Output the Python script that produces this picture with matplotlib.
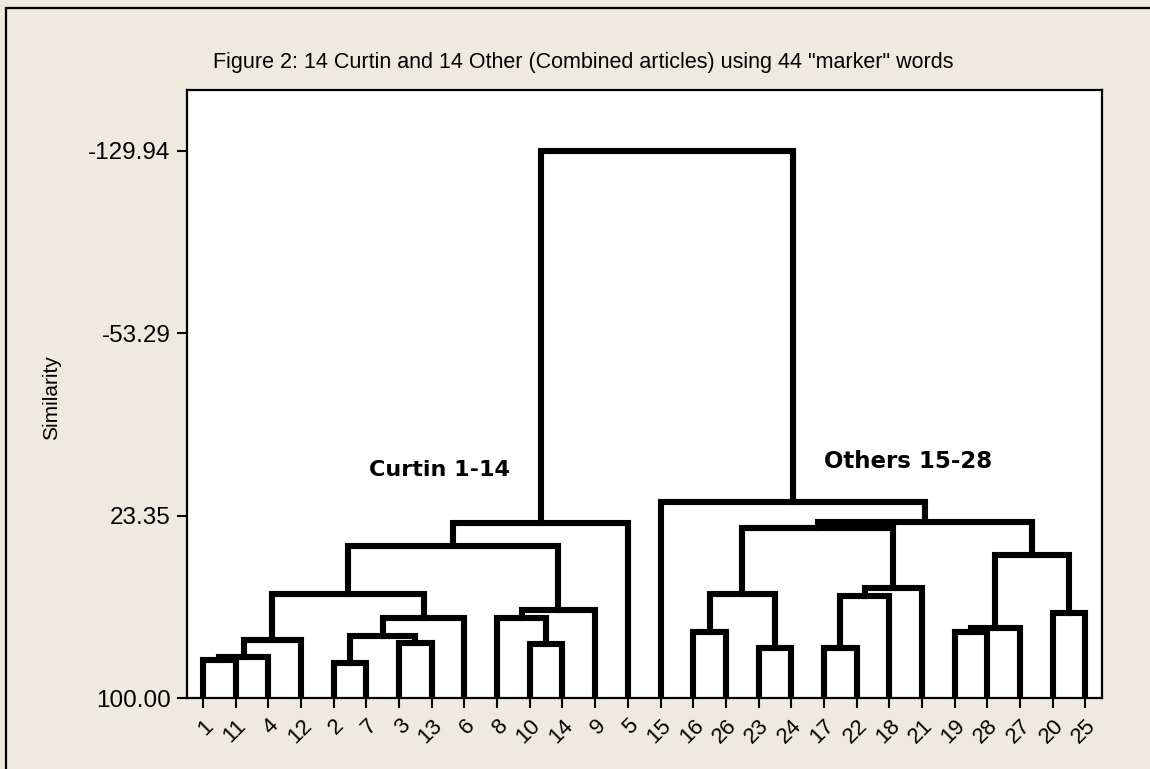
import matplotlib
matplotlib.use("Agg")
import matplotlib.pyplot as plt
from matplotlib.patches import Rectangle

# leaves in the order they appear along the x axis
leaf_labels = [1, 11, 4, 12, 2, 7, 3, 13, 6, 8, 10, 14, 9, 5,
               15, 16, 26, 23, 24, 17, 22, 18, 21, 19, 28, 27, 20, 25]

# merges, scipy style: ids 0..27 are leaves, merge k gets id 28 + k
merge_left = [0, 28, 29, 4, 6, 31, 33, 30, 10, 9, 37, 35, 39,
              15, 17, 41, 19, 44, 45, 43, 23, 48, 26, 49, 47, 14, 40]
merge_right = [1, 2, 3, 5, 7, 32, 8, 34, 11, 36, 12, 38, 13,
               16, 18, 42, 20, 21, 22, 46, 24, 25, 27, 50, 51, 52, 53]
merge_height = [84.0, 82.7, 75.6, 85.3, 76.8, 73.9, 66.3, 56.2, 77.3, 66.3, 62.9, 36.0, 26.3,
                72.2, 78.9, 56.2, 78.9, 57.1, 53.7, 28.4, 72.2, 70.5, 64.2, 39.8, 25.9, 17.5, -129.94]

y_ticks = [100.00, 23.35, -53.29, -129.94]

bg = "#EEEAE0"
fig = plt.figure(figsize=(11.5, 7.69), dpi=100, facecolor=bg)
ax = fig.add_axes([0.1623, 0.0923, 0.7957, 0.7907])

n = len(leaf_labels)
xpos = {i: float(i) for i in range(n)}
ypos = {i: 100.0 for i in range(n)}

for k in range(len(merge_left)):
    a, b, h = merge_left[k], merge_right[k], merge_height[k]
    ax.plot([xpos[a], xpos[a], xpos[b], xpos[b]], [ypos[a], h, h, ypos[b]],
            color="black", lw=4.4, solid_joinstyle="miter", solid_capstyle="projecting",
            clip_on=True, zorder=3)
    node = n + k
    xpos[node] = (xpos[a] + xpos[b]) / 2.0
    ypos[node] = h

ax.set_xlim(-0.5, n - 0.5)
ax.set_ylim(100, -155.4)

ax.set_xticks(range(n))
ax.set_xticklabels([str(v) for v in leaf_labels], rotation=45, ha="right", va="top",
                   rotation_mode="anchor", fontsize=16, family="Liberation Sans")
ax.set_yticks(y_ticks)
ax.set_yticklabels(["%.2f" % v for v in y_ticks], fontsize=17.5, family="Liberation Sans")
ax.tick_params(axis="both", direction="out", length=7, width=1.5, color="black")
ax.tick_params(axis="x", pad=5.5)
ax.tick_params(axis="y", pad=4.5)

for s in ax.spines.values():
    s.set_linewidth(1.6)

fig.text(52 / 1150, 1 - 398 / 769, "Similarity", rotation=90, ha="center", va="center",
         fontsize=15, family="Liberation Sans")

ax.text(7.23, 4.2, "Curtin 1-14", fontsize=16, fontweight="bold", ha="center", va="center")
ax.text(21.58, 0.8, "Others 15-28", fontsize=16.5, fontweight="bold", ha="center", va="center")

fig.text(0.507, 0.919, 'Figure 2: 14 Curtin and 14 Other (Combined articles) using 44 "marker" words',
         ha="center", va="center", fontsize=15.5, family="Liberation Sans")

# outer frame, cut off by the picture edge on the right and bottom
fig.add_artist(Rectangle((5.5 / 1150, -1.0), 2.0, 1.0 + (769 - 7.5) / 769,
                         transform=fig.transFigure, fill=False, lw=1.6, ec="black"))

fig.savefig("out.png", dpi=100, facecolor=bg)
